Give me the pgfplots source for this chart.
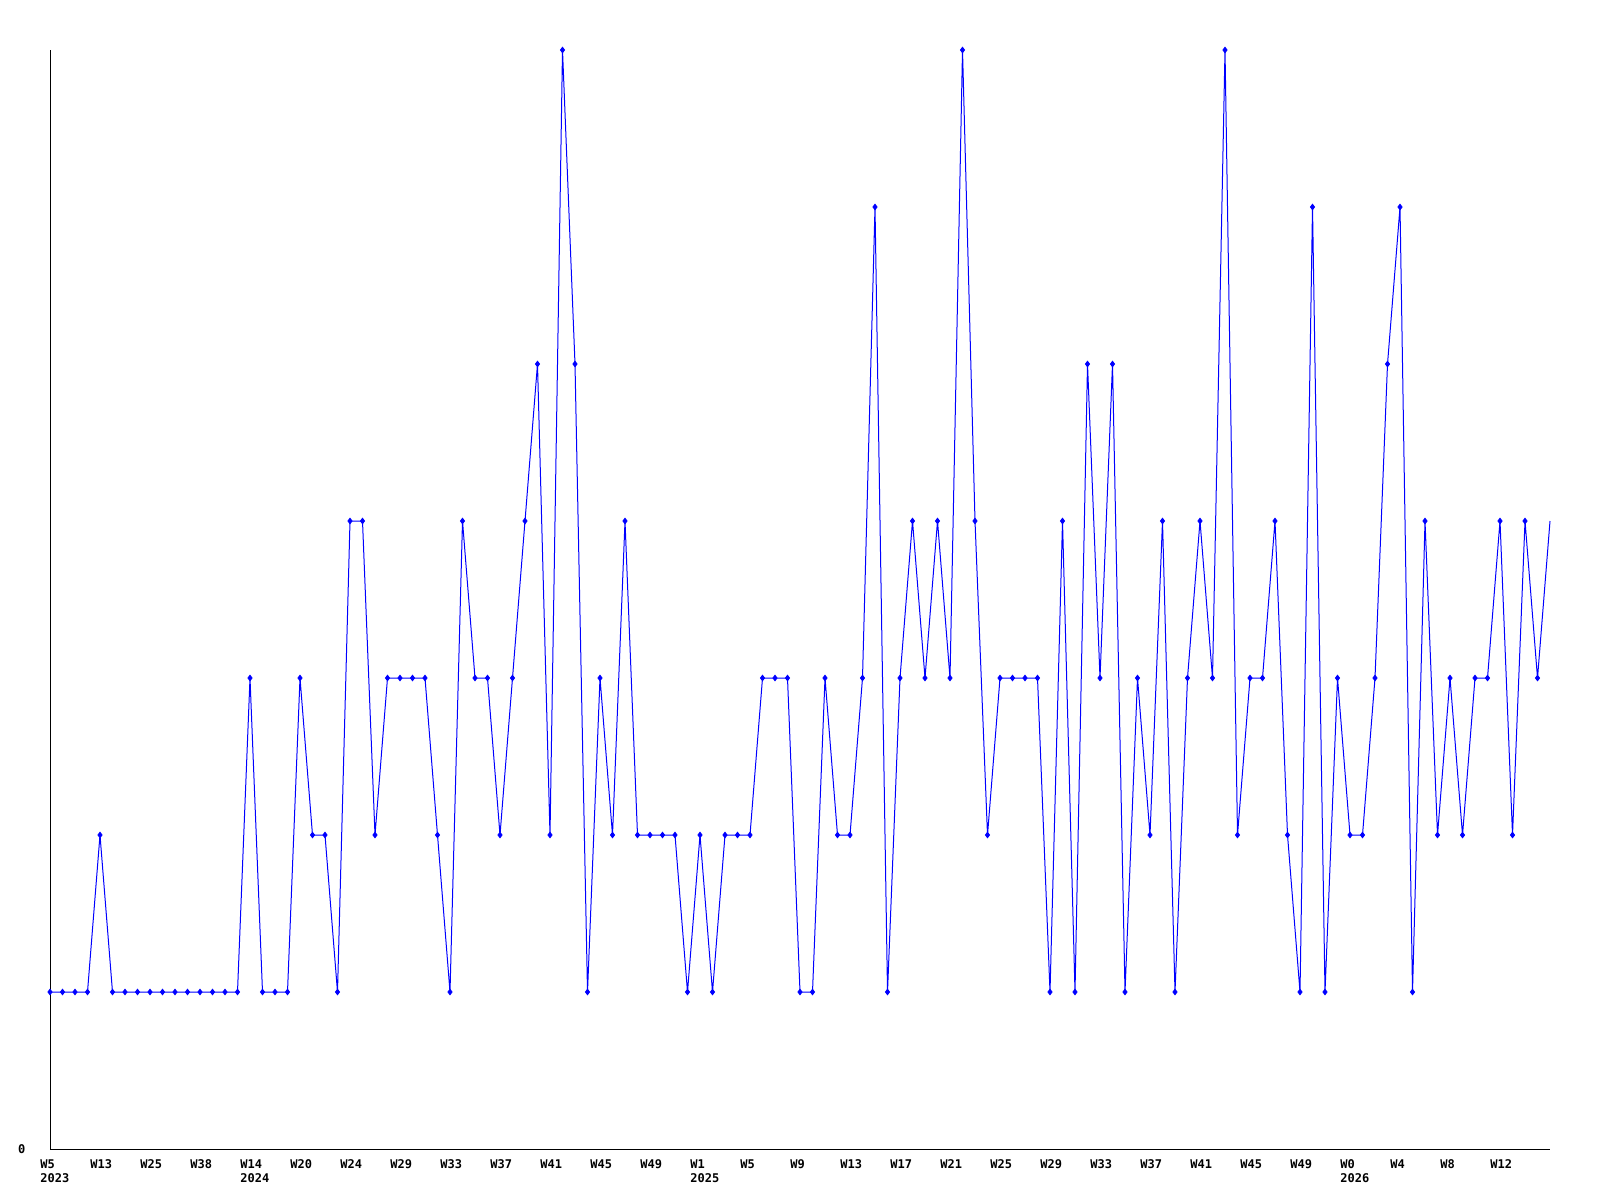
\documentclass[border=0pt]{standalone}
\usepackage{fontspec}
\usepackage{pgfplots}
\pgfplotsset{compat=1.18}
\usepackage{pgfplotstable}
\newfontfamily\lbl{DejaVu Sans Mono}

\pgfplotstableread{
i v
0 1
1 1
2 1
3 1
4 2
5 1
6 1
7 1
8 1
9 1
10 1
11 1
12 1
13 1
14 1
15 1
16 3
17 1
18 1
19 1
20 3
21 2
22 2
23 1
24 4
25 4
26 2
27 3
28 3
29 3
30 3
31 2
32 1
33 4
34 3
35 3
36 2
37 3
38 4
39 5
40 2
41 7
42 5
43 1
44 3
45 2
46 4
47 2
48 2
49 2
50 2
51 1
52 2
53 1
54 2
55 2
56 2
57 3
58 3
59 3
60 1
61 1
62 3
63 2
64 2
65 3
66 6
67 1
68 3
69 4
70 3
71 4
72 3
73 7
74 4
75 2
76 3
77 3
78 3
79 3
80 1
81 4
82 1
83 5
84 3
85 5
86 1
87 3
88 2
89 4
90 1
91 3
92 4
93 3
94 7
95 2
96 3
97 3
98 4
99 2
100 1
101 6
102 1
103 3
104 2
105 2
106 3
107 5
108 6
109 1
110 4
111 2
112 3
113 2
114 3
115 3
116 4
117 2
118 4
119 3
120 4
}\weeks

\begin{document}
\begin{tikzpicture}
\path[use as bounding box] (-25pt,-25.5pt) rectangle (775pt,574.5pt);
\begin{axis}[
    at={(0,0)}, anchor=south west,
    scale only axis,
    width=750pt, height=549.5pt,
    xmin=0, xmax=120, ymin=0, ymax=7,
    axis x line=bottom, axis y line=left,
    axis line style={-, black, line width=0.5pt},
    tick style={draw=none},
    clip=false,
    /pgf/number format/assume math mode=true,
    ytick={0}, yticklabels={0},
    yticklabel style={font=\lbl\bfseries\fontsize{6pt}{7pt}\selectfont, anchor=east, inner sep=0pt, xshift=-10pt},
    xtick={0,4,...,116},
    xticklabels={{W5\\2023},W13,W25,W38,{W14\\2024},W20,W24,W29,W33,W37,W41,W45,W49,{W1\\2025},W5,W9,W13,W17,W21,W25,W29,W33,W37,W41,W45,W49,{W0\\2026},W4,W8,W12},
    xticklabel style={font=\lbl\bfseries\fontsize{6pt}{7pt}\selectfont, align=left, anchor=north west, inner sep=0pt, xshift=-5pt, yshift=-3pt},
]
\addplot[color={rgb,255:red,0;green,0;blue,255}, line width=0.5pt, no marks] table[x=i, y=v] {\weeks};
\addplot[color={rgb,255:red,0;green,0;blue,255}, only marks, mark=diamond*, mark size=1.4pt,
    restrict expr to domain={\coordindex}{0:119}] table[x=i, y=v] {\weeks};
\end{axis}
\end{tikzpicture}
\end{document}
